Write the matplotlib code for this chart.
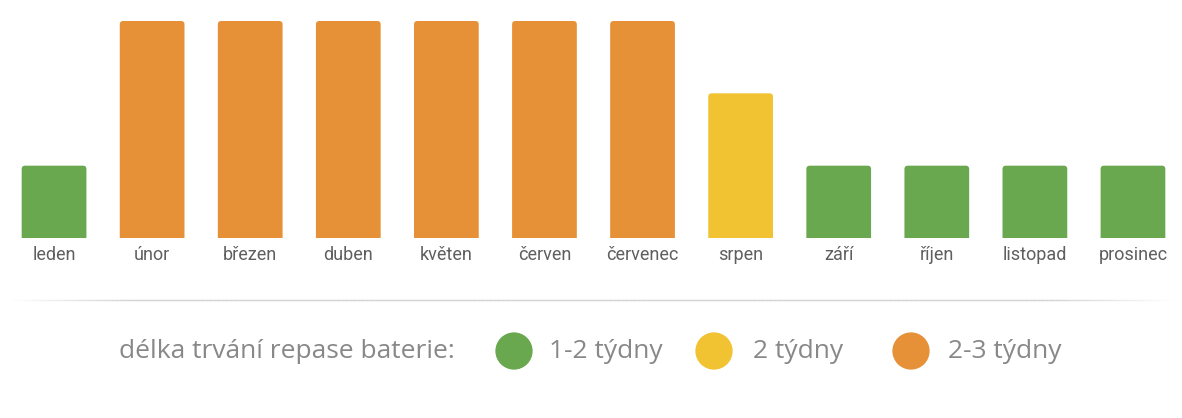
import matplotlib
matplotlib.use("Agg")
import matplotlib.pyplot as plt
import numpy as np
from matplotlib.patches import FancyBboxPatch
from matplotlib.collections import LineCollection

months = ["leden", "únor", "březen", "duben", "květen", "červen",
          "červenec", "srpen", "září", "říjen", "listopad", "prosinec"]
weeks = [1, 3, 3, 3, 3, 3, 3, 2, 1, 1, 1, 1]

legend_title = "délka trvání repase baterie:"
legend_labels = ["1-2 týdny", "2 týdny", "2-3 týdny"]
legend_values = [1, 2, 3]
colors = {1: "#6aa84f", 2: "#f1c232", 3: "#e69138"}

W, H = 1182, 418
fig = plt.figure(figsize=(W / 100, H / 100), dpi=100)

# bar area
ax_w = 1177
ax = fig.add_axes([5 / W, (H - 238) / H, ax_w / W, 217 / H])
x = np.arange(len(months))
bars = ax.bar(x, weeks, width=0.66, color=[colors[w] for w in weeks])
ax.set_xlim(-0.5, len(months) - 0.5)
ax.set_ylim(0, 3)

# swap plain bars for rounded ones (bottom hidden below the axis)
aspect = (3 / 217) / (len(months) / ax_w)
for b in bars:
    bx, by = b.get_x(), b.get_y()
    bw, bh = b.get_width(), b.get_height()
    p = FancyBboxPatch((bx, by - 0.1), bw, bh + 0.1,
                       boxstyle="round,pad=0,rounding_size=0.035",
                       mutation_aspect=aspect,
                       fc=b.get_facecolor(), ec="none", clip_on=True)
    ax.add_patch(p)
    b.set_visible(False)

ax.set_xticks(x)
ax.set_xticklabels(months, fontsize=13, color="#5f5f5f", family="Roboto")
ax.tick_params(axis="x", length=0, pad=6)
ax.set_yticks([])
for s in ax.spines.values():
    s.set_visible(False)

# overlay in pixel coords for separator and legend
lx = fig.add_axes([0, 0, 1, 1])
lx.set_xlim(0, W)
lx.set_ylim(H, 0)
lx.axis("off")

xs = np.linspace(10, 1172, 300)
segs = [[(xs[i], 300), (xs[i + 1], 300)] for i in range(len(xs) - 1)]
mid = (xs[:-1] + xs[1:]) / 2
fade = np.clip(np.minimum(mid - 10, 1172 - mid) / 120, 0, 1)
seg_colors = [(0.82, 0.82, 0.82, a) for a in fade]
lx.add_collection(LineCollection(segs, colors=seg_colors, linewidths=1))

leg_font = "Open Sans"
lx.text(119, 351, legend_title, fontsize=19, color="#888888",
        family=leg_font, va="center", ha="left")
circle_x = [514, 714, 911]
text_x = [549, 753, 948]
for cx, tx, lab, v in zip(circle_x, text_x, legend_labels, legend_values):
    lx.scatter([cx], [351], s=720, color=colors[v], edgecolors="none")
    lx.text(tx, 351, lab, fontsize=19, color="#888888",
            family=leg_font, va="center", ha="left")

fig.savefig("out.png", dpi=100)
